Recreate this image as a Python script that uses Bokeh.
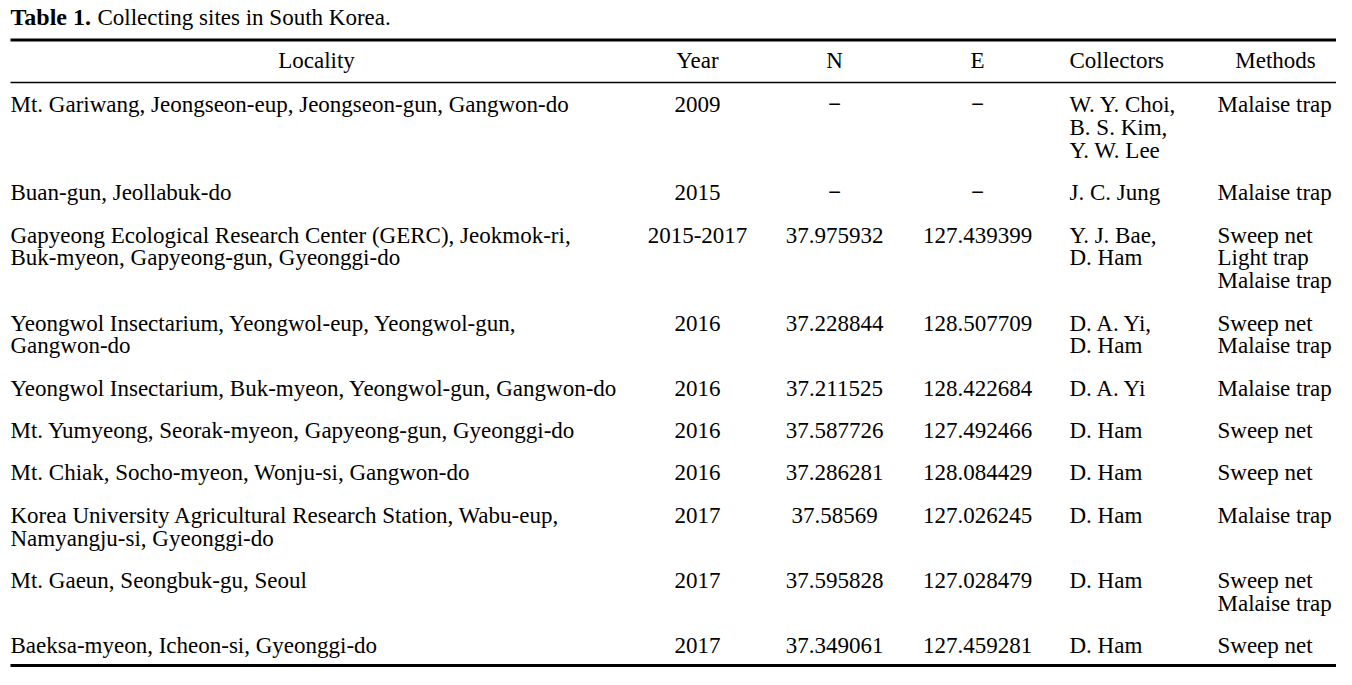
from bokeh.plotting import figure
from bokeh.models import Range1d
from bokeh.core.properties import value
from bokeh.embed import file_html
from bokeh.resources import INLINE

# ---- data ----
title_bold = "Table 1."
title_rest = "Collecting sites in South Korea."
headers = ["Locality", "Year", "N", "E", "Collectors", "Methods"]

localities = [
    ["Mt. Gariwang, Jeongseon-eup, Jeongseon-gun, Gangwon-do"],
    ["Buan-gun, Jeollabuk-do"],
    ["Gapyeong Ecological Research Center (GERC), Jeokmok-ri,", "Buk-myeon, Gapyeong-gun, Gyeonggi-do"],
    ["Yeongwol Insectarium, Yeongwol-eup, Yeongwol-gun,", "Gangwon-do"],
    ["Yeongwol Insectarium, Buk-myeon, Yeongwol-gun, Gangwon-do"],
    ["Mt. Yumyeong, Seorak-myeon, Gapyeong-gun, Gyeonggi-do"],
    ["Mt. Chiak, Socho-myeon, Wonju-si, Gangwon-do"],
    ["Korea University Agricultural Research Station, Wabu-eup,", "Namyangju-si, Gyeonggi-do"],
    ["Mt. Gaeun, Seongbuk-gu, Seoul"],
    ["Baeksa-myeon, Icheon-si, Gyeonggi-do"],
]
years = ["2009", "2015", "2015-2017", "2016", "2016", "2016", "2016", "2017", "2017", "2017"]
north = ["\u2212", "\u2212", "37.975932", "37.228844", "37.211525", "37.587726",
         "37.286281", "37.58569", "37.595828", "37.349061"]
east = ["\u2212", "\u2212", "127.439399", "128.507709", "128.422684", "127.492466",
        "128.084429", "127.026245", "127.028479", "127.459281"]
collectors = [
    ["W. Y. Choi,", "B. S. Kim,", "Y. W. Lee"],
    ["J. C. Jung"],
    ["Y. J. Bae,", "D. Ham"],
    ["D. A. Yi,", "D. Ham"],
    ["D. A. Yi"],
    ["D. Ham"],
    ["D. Ham"],
    ["D. Ham"],
    ["D. Ham"],
    ["D. Ham"],
]
methods = [
    ["Malaise trap"],
    ["Malaise trap"],
    ["Sweep net", "Light trap", "Malaise trap"],
    ["Sweep net", "Malaise trap"],
    ["Malaise trap"],
    ["Sweep net"],
    ["Sweep net"],
    ["Malaise trap"],
    ["Sweep net", "Malaise trap"],
    ["Sweep net"],
]

# ---- layout ----
W, H = 1336, 669
p = figure(width=W, height=H, output_backend="svg", toolbar_location=None,
           x_range=Range1d(0, W), y_range=Range1d(686, 0),
           min_border=0, outline_line_color=None, background_fill_color="white",
           border_fill_color="white")
p.axis.visible = False
p.grid.visible = False

FONT = value("Liberation Serif")
FS = "23px"
LINE_H = 23.3
ROW_GAP = 43.5
DASH = "\u2212"

x_loc = 10
x_year = 697
x_n = 834
x_e = 977
x_col = 1069
x_met = 1217


def put(x, y, t, align="left", style="normal", fs=FS):
    p.text(x=[x], y=[y], text=[t], text_font=FONT, text_font_size=fs,
           text_align=align, text_baseline="middle", text_color="black",
           text_font_style=style)


# title
put(10, 17, title_bold, style="bold", fs="24px")
put(97, 17, title_rest)

# rules
p.segment(x0=[10], y0=[40.5], x1=[W], y1=[40.5], line_color="black", line_width=3)
p.segment(x0=[10], y0=[84], x1=[W], y1=[84], line_color="black", line_width=1.5)
p.segment(x0=[10], y0=[682], x1=[W], y1=[682], line_color="black", line_width=3)

# header
hy = 62
put(316, hy, headers[0], "center")
put(x_year, hy, headers[1], "center")
put(x_n, hy, headers[2], "center")
put(x_e, hy, headers[3], "center")
put(x_col, hy, headers[4], "left")
put(1275, hy, headers[5], "center")

# rows
y = 107
for i in range(len(localities)):
    for k, t in enumerate(localities[i]):
        put(x_loc, y + k * LINE_H, t)
    put(x_year, y, years[i], "center")
    put(x_n, y, north[i], "center", style="bold" if north[i] == DASH else "normal")
    put(x_e, y, east[i], "center", style="bold" if east[i] == DASH else "normal")
    for k, t in enumerate(collectors[i]):
        put(x_col, y + k * LINE_H, t)
    for k, t in enumerate(methods[i]):
        put(x_met, y + k * LINE_H, t)
    n = max(len(localities[i]), len(collectors[i]), len(methods[i]))
    y = y + (n - 1) * LINE_H + ROW_GAP

open("out.html", "w").write(file_html(p, INLINE))
